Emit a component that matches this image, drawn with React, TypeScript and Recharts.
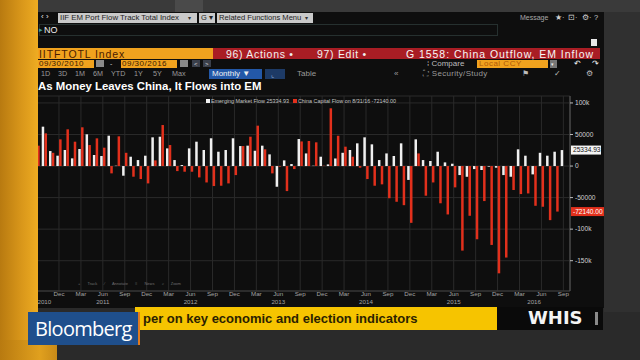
import React from 'react';
import { BarChart, Bar, XAxis, YAxis, CartesianGrid, ReferenceLine } from 'recharts';

// monthly points, 09/30/2010 - 09/30/2016
const MONTHS = [
  '2010-09', '2010-10', '2010-11', '2010-12',
  '2011-01', '2011-02', '2011-03', '2011-04', '2011-05', '2011-06', '2011-07', '2011-08', '2011-09', '2011-10', '2011-11', '2011-12',
  '2012-01', '2012-02', '2012-03', '2012-04', '2012-05', '2012-06', '2012-07', '2012-08', '2012-09', '2012-10', '2012-11', '2012-12',
  '2013-01', '2013-02', '2013-03', '2013-04', '2013-05', '2013-06', '2013-07', '2013-08', '2013-09', '2013-10', '2013-11', '2013-12',
  '2014-01', '2014-02', '2014-03', '2014-04', '2014-05', '2014-06', '2014-07', '2014-08', '2014-09', '2014-10', '2014-11', '2014-12',
  '2015-01', '2015-02', '2015-03', '2015-04', '2015-05', '2015-06', '2015-07', '2015-08', '2015-09', '2015-10', '2015-11', '2015-12',
  '2016-01', '2016-02', '2016-03', '2016-04', '2016-05', '2016-06', '2016-07', '2016-08', '2016-09',
];

const EM_FLOW = [
  30000, 62400, 23800, 16400,
  25400, 12200, 27000, 50300, 17500, 15900, 48100, 500, -15300, 14800, 9500, 16400,
  45500, 46500, 28000, 9500, 1600, 28000, 38600, 25400, 44000, 22700, 25400, 44000,
  31700, 32300, 24300, 32300, 18500, -32800, 9000, 3200, 42800, 20000, 500, 14800,
  2600, 12000, 21000, 25400, 36000, 45500, 34400, 9500, 20000, 15900, 36000, -22000,
  42300, 9500, 8000, 22700, 5800, 3700, -14300, -17000, -4800, -6300, -1000, -2600,
  -14300, -17000, 26500, 16400, -13200, 21000, 16400, 22700, 25334.93,
];

const CHINA_FLOW = [
  32300, 51800, 21000, 42300,
  58200, 38600, 61400, 33300, 43900, 29100, -11600, 47100, 21000, -16900, -20600, -27500,
  9000, 65000, 33300, -8000, -9000, -9000, -18000, -26000, -31700, -31200, -27500, -14300,
  31700, 46500, 64000, 26500, -11600, -1000, -39700, -4800, 39000, 39700, 37600, 500,
  91500, 48000, 30700, 14800, -2600, -20600, -31200, -29000, -51000, -56600, -62000, -90000,
  20000, -47000, -26000, -59000, -76700, -33800, -134000, -78800, -116000, -55500, -125000, -170000,
  -145000, -38000, -44400, -43400, -63000, -64500, -85700, -72140, null,
];

const X_TICKS = [
  '2010-12', '2011-03', '2011-06', '2011-09', '2011-12', '2012-03', '2012-06', '2012-09', '2012-12',
  '2013-03', '2013-06', '2013-09', '2013-12', '2014-03', '2014-06', '2014-09', '2014-12',
  '2015-03', '2015-06', '2015-09', '2015-12', '2016-03', '2016-06', '2016-09',
];
const YEAR_TICKS = ['2010-10', '2011-06', '2012-06', '2013-06', '2014-06', '2015-06', '2016-05'];
const Y_TICKS = [100000, 50000, 0, -50000, -100000, -150000];
const MONTH_NAMES = ['Jan', 'Feb', 'Mar', 'Apr', 'May', 'Jun', 'Jul', 'Aug', 'Sep', 'Oct', 'Nov', 'Dec'];

const data = MONTHS.map((m, i) => ({ month: m, em: EM_FLOW[i], china: CHINA_FLOW[i] }));

const EM_LAST = EM_FLOW[EM_FLOW.length - 1] as number;
const CHINA_LAST = CHINA_FLOW[CHINA_FLOW.length - 2] as number;

const RED = '#e2301c';
const FONT = '"Liberation Sans", Arial, sans-serif';

const fmtY = (v: number) => (Math.abs(v) >= 100000 ? `${v / 1000}k` : String(v));

const MonthTick = ({ x, y, payload }: any) => {
  const mm = Number(String(payload.value).slice(5, 7));
  return (
    <text x={x} y={y + 5} textAnchor="middle" fontSize={6.2} fill="#a3a3a3" fontFamily={FONT}>
      {MONTH_NAMES[mm - 1]}
    </text>
  );
};

const YearTick = ({ x, y, payload }: any) => (
  <text x={x} y={y + 4.5} textAnchor="middle" fontSize={6.2} fill="#a3a3a3" fontFamily={FONT}>
    {String(payload.value).slice(0, 4)}
  </text>
);

const Badge = ({ viewBox, text, bg, color, w }: any) => {
  const x = viewBox.x + viewBox.width + 1;
  const y = viewBox.y;
  return (
    <g>
      <rect x={x} y={y - 4.5} width={w} height={9} fill={bg} />
      <text x={x + 2} y={y + 2.4} fontSize={6.6} fill={color} fontFamily={FONT}>{text}</text>
    </g>
  );
};

const box = (left: number, top: number, width: number, height: number, style: React.CSSProperties = {}): React.CSSProperties => ({
  position: 'absolute', left, top, width, height, boxSizing: 'border-box', ...style,
});

const txt = (left: number, top: number, size: number, color: string, extra: React.CSSProperties = {}): React.CSSProperties => ({
  position: 'absolute', left, top, fontSize: size, color, lineHeight: 1, whiteSpace: 'nowrap', ...extra,
});

const PERIODS = ['1D', '3D', '1M', '6M', 'YTD', '1Y', '5Y', 'Max'];
const PERIOD_X = [41, 58, 75, 93, 111, 134, 153, 172];

export default function App() {
  return (
    <div style={{ position: 'absolute', left: 0, top: 0, width: 640, height: 360, overflow: 'hidden', background: '#2a2a2a', fontFamily: FONT }}>
      {/* tv frame */}
      <div style={box(0, 0, 640, 12, { background: '#3a3a3a' })} />
      <div style={box(175, 0, 28, 12, { background: '#4a4a4a' })} />
      <div style={box(604, 12, 36, 300, { background: '#303030' })} />

      {/* terminal panel */}
      <div style={box(38, 12, 566, 296, { background: '#0e0e0e' })} />

      {/* row 1 */}
      <div style={txt(41, 13, 8, '#e6e6e6')}>‹ ›</div>
      <div style={box(58, 13, 139, 10, { background: '#c9c9c9' })}>
        <span style={txt(2, 1.2, 7.8, '#1e1e1e')}>IIF EM Port Flow Track Total Index</span>
        <span style={txt(130, 1.5, 6, '#333')}>▾</span>
      </div>
      <div style={box(199, 13, 16, 10, { background: '#c9c9c9' })}>
        <span style={txt(2, 1.2, 7.5, '#1e1e1e')}>G ▾</span>
      </div>
      <div style={box(217, 13, 96, 10, { background: '#c9c9c9' })}>
        <span style={txt(2, 1.2, 7.6, '#1e1e1e')}>Related Functions Menu</span>
        <span style={txt(88, 1.5, 6, '#333')}>▾</span>
      </div>
      <div style={txt(520, 14, 7, '#a8a8a8')}>Message</div>
      <div style={txt(555, 13.5, 7.5, '#cfcfcf')}>★·</div>
      <div style={txt(568, 13.5, 7.5, '#cfcfcf')}>⊡·</div>
      <div style={txt(582, 13.5, 7.5, '#cfcfcf')}>⚙·</div>
      <div style={txt(594, 13.5, 7.5, '#cfcfcf')}>?</div>

      {/* row 2 */}
      <div style={box(39, 24, 459, 12, { border: '1px solid #26302f' })} />
      <div style={txt(39, 26, 7, '#3c9d9b')}>▸</div>
      <div style={txt(44, 25.5, 9, '#f0f0f0')}>NO</div>
      <div style={box(591, 39, 6, 7, { background: '#e8e8e8' })} />

      {/* row 3 */}
      <div style={box(38, 48, 175, 11, { background: '#f0a21e' })}>
        <span style={txt(1, 0.5, 10.5, '#4a1c00', { letterSpacing: 0.9 })}>IITFTOTL Index</span>
      </div>
      <div style={box(213, 48, 387, 11, { background: '#a91d24' })}>
        <span style={txt(13, 0.5, 10.5, '#f2f2f2', { letterSpacing: 0.7 })}>96) Actions  •</span>
        <span style={txt(104, 0.5, 10.5, '#f2f2f2', { letterSpacing: 0.7 })}>97) Edit  •</span>
        <span style={txt(193, 0.5, 10.5, '#f7f7f7', { letterSpacing: 0.95 })}>G 1558: China Outflow, EM Inflow</span>
      </div>

      {/* row 4 */}
      <div style={box(38, 59.5, 56, 8.5, { background: '#f0a21e' })}>
        <span style={txt(1, 0.5, 8, '#3a1a00', { letterSpacing: 0.5 })}>09/30/2010</span>
      </div>
      <div style={box(96, 60, 8, 7, { background: '#8a8a8a' })} />
      <div style={txt(110, 60, 7, '#cfcfcf')}>-</div>
      <div style={box(121, 59.5, 56, 8.5, { background: '#f0a21e' })}>
        <span style={txt(1, 0.5, 8, '#3a1a00', { letterSpacing: 0.5 })}>09/30/2016</span>
      </div>
      <div style={box(180, 60, 8, 7, { background: '#8a8a8a' })} />
      <div style={box(192, 60, 8, 7, { background: '#3a3f4a' })}>
        <span style={txt(2, 0.5, 6, '#ddd')}>&lt;</span>
      </div>
      <div style={box(203, 60, 8, 7, { background: '#3a3f4a' })}>
        <span style={txt(2, 0.5, 6, '#ddd')}>&gt;</span>
      </div>
      <div style={txt(427, 60, 8, '#bdbdbd')}>⁞ Compare</div>
      <div style={box(477, 59.5, 71, 8.5, { background: '#f0a21e' })}>
        <span style={txt(2, 0.5, 8, '#b05a08', { letterSpacing: 0.5 })}>Local CCY</span>
      </div>
      <div style={box(550, 59.5, 7, 8.5, { background: '#777' })}>
        <span style={txt(1, 2, 5, '#eee')}>▾</span>
      </div>
      <div style={txt(574, 60, 8, '#f0f0f0')}>↶</div>
      <div style={txt(592, 60, 8, '#f0f0f0')}>↷</div>

      {/* row 5 */}
      {PERIODS.map((p, i) => (
        <div key={p} style={txt(PERIOD_X[i], 70, 7.2, '#9a9a9a')}>{p}</div>
      ))}
      <div style={box(209, 68.5, 53, 10.5, { background: '#2358a8' })}>
        <span style={txt(3, 1.5, 8, '#f0f0f0')}>Monthly ▼</span>
      </div>
      <div style={box(265, 68.5, 20, 10.5, { background: '#1d3a66' })}>
        <span style={txt(6, 2, 7, '#8fb0d8')}>⌞</span>
      </div>
      <div style={txt(297, 70, 8, '#9a9a9a')}>Table</div>
      <div style={txt(394, 69.5, 8, '#9a9a9a')}>«</div>
      <div style={txt(423, 70, 8, '#9a9a9a', { letterSpacing: 0.3 })}>⛶ Security/Study</div>
      <div style={txt(522, 69.5, 7.5, '#bdbdbd')}>⚑</div>
      <div style={txt(554, 69.5, 7.5, '#bdbdbd')}>✓</div>
      <div style={txt(586, 69.5, 7.5, '#bdbdbd')}>⚙</div>

      {/* title */}
      <div style={txt(38, 80.5, 11.4, '#ffffff', { fontWeight: 'bold' })}>As Money Leaves China, It Flows into EM</div>

      {/* chart */}
      <div style={{ position: 'absolute', left: 0, top: 90 }}>
        <BarChart
          width={610}
          height={221}
          data={data}
          margin={{ top: 6, right: 0, bottom: 0, left: 33.4 }}
          barSize={2.5}
          barGap={0.3}
        >
          <CartesianGrid stroke="#2a2a2a" strokeWidth={1} />
          <XAxis
            dataKey="month"
            ticks={X_TICKS}
            interval={0}
            tick={<MonthTick />}
            tickLine={false}
            tickSize={0}
            tickMargin={0}
            axisLine={{ stroke: '#3c3c3c' }}
            height={8}
            padding={{ left: 0, right: 3 }}
          />
          <XAxis
            xAxisId="year"
            dataKey="month"
            ticks={YEAR_TICKS}
            interval={0}
            tick={<YearTick />}
            tickLine={false}
            tickSize={0}
            tickMargin={0}
            axisLine={false}
            height={12}
            padding={{ left: 0, right: 3 }}
          />
          <YAxis
            orientation="right"
            domain={[-198000, 111000]}
            ticks={Y_TICKS}
            interval={0}
            tickFormatter={fmtY}
            width={40}
            axisLine={{ stroke: '#5a5a5a' }}
            tickLine={{ stroke: '#bbbbbb' }}
            tickSize={3}
            tickMargin={2}
            tick={{ fill: '#d0d0d0', fontSize: 6.6, fontFamily: FONT }}
          />
          <Bar dataKey="em" fill="#f0f0f0" isAnimationActive={false} />
          <Bar dataKey="china" fill={RED} isAnimationActive={false} />
          <ReferenceLine
            y={EM_LAST}
            strokeOpacity={0}
            label={<Badge text={EM_LAST.toFixed(2)} bg="#f4f4f4" color="#111" w={30} />}
          />
          <ReferenceLine
            y={CHINA_LAST}
            strokeOpacity={0}
            label={<Badge text={CHINA_LAST.toFixed(2)} bg={RED} color="#fff" w={33} />}
          />
        </BarChart>
      </div>

      {/* legend */}
      <div style={txt(206, 98.5, 5.4, '#c4c4c4')}>
        <span style={{ display: 'inline-block', width: 4, height: 4, background: '#f0f0f0', marginRight: 1 }} />
        {`Emerging Market Flow ${EM_LAST.toFixed(2)}`}
        <span style={{ display: 'inline-block', width: 4, height: 4, background: RED, margin: '0 1px 0 4px' }} />
        {`China Capital Flow on 8/31/16 ${CHINA_LAST.toFixed(2)}`}
      </div>

      {/* chart toolbar */}
      <div style={txt(78, 281.5, 4, '#6e6e6e', { wordSpacing: 6 })}>+ Track ⁄ Annotate ≡ News ⌕ Zoom</div>

      {/* left yellow frame */}
      <div style={box(0, 0, 38, 360, { background: 'linear-gradient(90deg, #b87a10 0%, #d8961a 55%, #eeac22 100%)' })} />
      <div style={box(0, 340, 57, 20, { background: 'linear-gradient(90deg, #b87a10 0%, #e0a01e 70%, #c88a18 100%)' })} />

      {/* ticker */}
      <div style={box(135, 307, 362, 23, { background: '#f6c400' })}>
        <span style={txt(8, 4.5, 13, '#2b2200', { fontWeight: 'bold' })}>per on key economic and election indicators</span>
      </div>
      <div style={box(497, 307, 106, 23, { background: '#0a0a0a' })}>
        <span style={txt(31, 2, 18, '#f4f4f4', { fontWeight: 900, fontFamily: '"DejaVu Sans", Arial, sans-serif' })}>WHIS</span>
        <span style={box(98, 5, 3, 13, { background: '#8a8a8a' })} />
      </div>
      <div style={box(28, 312, 112, 33, { background: '#1f4f8c', borderRight: '2px solid #e07a1f' })}>
        <span style={txt(7, 6.5, 20, '#ffffff', { fontFamily: '"Open Sans", Arial, sans-serif', letterSpacing: -0.7 })}>Bloomberg</span>
      </div>
    </div>
  );
}
